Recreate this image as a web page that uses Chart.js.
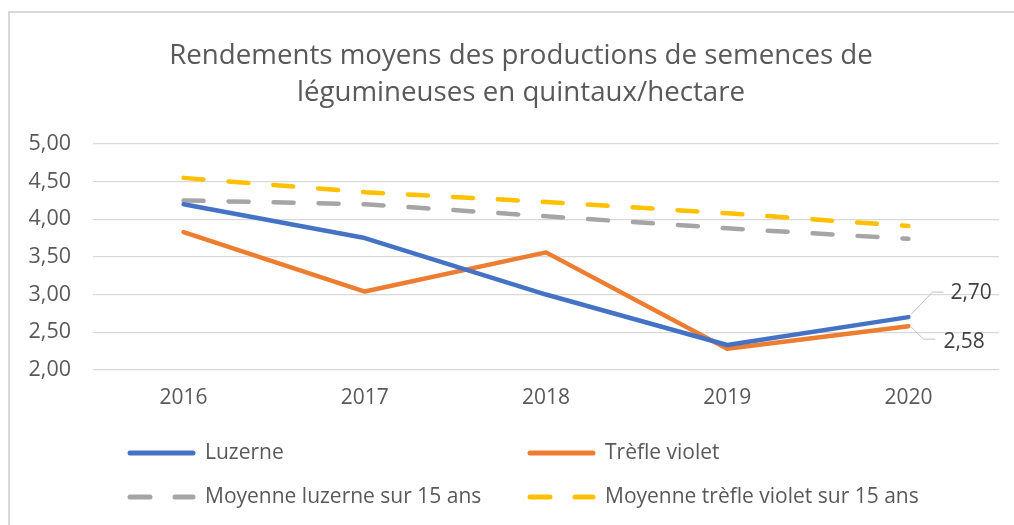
<!DOCTYPE html>
<html>
<head>
<meta charset="utf-8">
<script src="https://cdn.jsdelivr.net/npm/chart.js@4/dist/chart.umd.min.js"></script>
<style>
  html, body { margin: 0; padding: 0; background: #fff; }
  #wrap { position: relative; width: 1014px; height: 525px; }
  #frame { position: absolute; left: 8px; top: 11px; width: 1020px; height: 530px;
           border-top: 2px solid #d9d9d9; border-left: 2px solid #d9d9d9; }
  canvas { position: absolute; left: 0; top: 0; }
</style>
</head>
<body>
<div id="wrap">
  <div id="frame"></div>
  <canvas id="myLineChart" width="1014" height="525"></canvas>
</div>
<script>
const years = ['2016', '2017', '2018', '2019', '2020'];
const luzerne = [4.20, 3.75, 3.00, 2.33, 2.70];
const trefle = [3.83, 3.04, 3.56, 2.28, 2.58];
const moyLuzerne = [4.25, 4.20, 4.04, 3.88, 3.74];
const moyTrefle = [4.55, 4.36, 4.23, 4.08, 3.91];
const yTicks = [2, 2.5, 3, 3.5, 4, 4.5, 5];
const titleLines = ['Rendements moyens des productions de semences de', 'légumineuses en quintaux/hectare'];

const FONT = "'Open Sans', 'Noto Sans', sans-serif";
const fmt = v => v.toFixed(2).replace('.', ',');

// title drawn by hand so it can sit a bit right of the canvas centre
const chartTitle = {
    id: 'chartTitle',
    afterDraw(chart) {
        const ctx = chart.ctx;
        ctx.save();
        ctx.fillStyle = '#595959';
        ctx.font = '27.7px ' + FONT;
        ctx.textAlign = 'center';
        ctx.textBaseline = 'middle';
        titleLines.forEach((t, i) => ctx.fillText(t, 521, 56 + i * 37));
        ctx.restore();
    }
};

// legend in two columns under the chart
const gridLegend = {
    id: 'gridLegend',
    afterDraw(chart) {
        const ctx = chart.ctx;
        const cols = [128, 528];
        const rows = [453, 497];
        chart.data.datasets.forEach((ds, i) => {
            const x = cols[i % 2];
            const y = rows[Math.floor(i / 2)];
            ctx.save();
            ctx.strokeStyle = ds.borderColor;
            ctx.lineWidth = 5;
            ctx.lineCap = 'round';
            ctx.setLineDash(ds.borderDash || []);
            ctx.beginPath();
            ctx.moveTo(x + 2, y);
            ctx.lineTo(x + 65, y);
            ctx.stroke();
            ctx.setLineDash([]);
            ctx.fillStyle = '#595959';
            ctx.font = '21px ' + FONT;
            ctx.textBaseline = 'middle';
            ctx.fillText(ds.label, x + 77, y);
            ctx.restore();
        });
    }
};

// value labels with leader lines at the last point
const endLabels = {
    id: 'endLabels',
    afterDatasetsDraw(chart) {
        const ctx = chart.ctx;
        const specs = [
            { ds: 0, pts: [[3, -3], [24, -25], [35, -25]], tx: 42, ty: -24 },
            { ds: 1, pts: [[3, 1], [15, 13], [27, 13]], tx: 35, ty: 16 }
        ];
        specs.forEach(s => {
            const meta = chart.getDatasetMeta(s.ds);
            const last = meta.data.length - 1;
            const p = meta.data[last];
            const v = chart.data.datasets[s.ds].data[last];
            ctx.save();
            ctx.strokeStyle = '#bfbfbf';
            ctx.lineWidth = 1;
            ctx.beginPath();
            s.pts.forEach(([dx, dy], k) => {
                if (k === 0) ctx.moveTo(p.x + dx, p.y + dy);
                else ctx.lineTo(p.x + dx, p.y + dy);
            });
            ctx.stroke();
            ctx.fillStyle = '#404040';
            ctx.font = '21px ' + FONT;
            ctx.textBaseline = 'middle';
            ctx.fillText(fmt(v), p.x + s.tx, p.y + s.ty);
            ctx.restore();
        });
    }
};

const ctx = document.getElementById('myLineChart').getContext('2d');
new Chart(ctx, {
    type: 'line',
    data: {
        labels: years,
        datasets: [{
            label: 'Luzerne',
            data: luzerne,
            borderColor: '#4472C4',
            backgroundColor: '#4472C4',
        }, {
            label: 'Trèfle violet',
            data: trefle,
            borderColor: '#ED7D31',
            backgroundColor: '#ED7D31',
        }, {
            label: 'Moyenne luzerne sur 15 ans',
            data: moyLuzerne,
            borderColor: '#A5A5A5',
            backgroundColor: '#A5A5A5',
            borderDash: [20, 25],
        }, {
            label: 'Moyenne trèfle violet sur 15 ans',
            data: moyTrefle,
            borderColor: '#FFC000',
            backgroundColor: '#FFC000',
            borderDash: [20, 25],
        }]
    },
    options: {
        responsive: false,
        animation: false,
        elements: {
            line: { borderWidth: 4.5, tension: 0, borderCapStyle: 'round', borderJoinStyle: 'round', fill: false },
            point: { radius: 0, hoverRadius: 0 }
        },
        layout: { padding: { left: 10, right: 15, top: 144, bottom: 106 } },
        scales: {
            x: {
                offset: true,
                grid: { display: false },
                border: { display: false },
                ticks: { color: '#595959', font: { family: FONT, size: 21 }, padding: 8 }
            },
            y: {
                min: 2,
                max: 5,
                afterBuildTicks: scale => { scale.ticks = yTicks.map(v => ({ value: v })); },
                afterFit: scale => { scale.width = 83; },
                grid: { color: '#d9d9d9', lineWidth: 1.3, drawTicks: false },
                border: { display: false },
                ticks: { color: '#595959', font: { family: FONT, size: 21.5 }, padding: 22, callback: v => fmt(v) }
            }
        },
        plugins: {
            legend: { display: false },
            tooltip: { enabled: false },
            title: { display: false }
        }
    },
    plugins: [chartTitle, gridLegend, endLabels]
});
</script>
</body>
</html>
